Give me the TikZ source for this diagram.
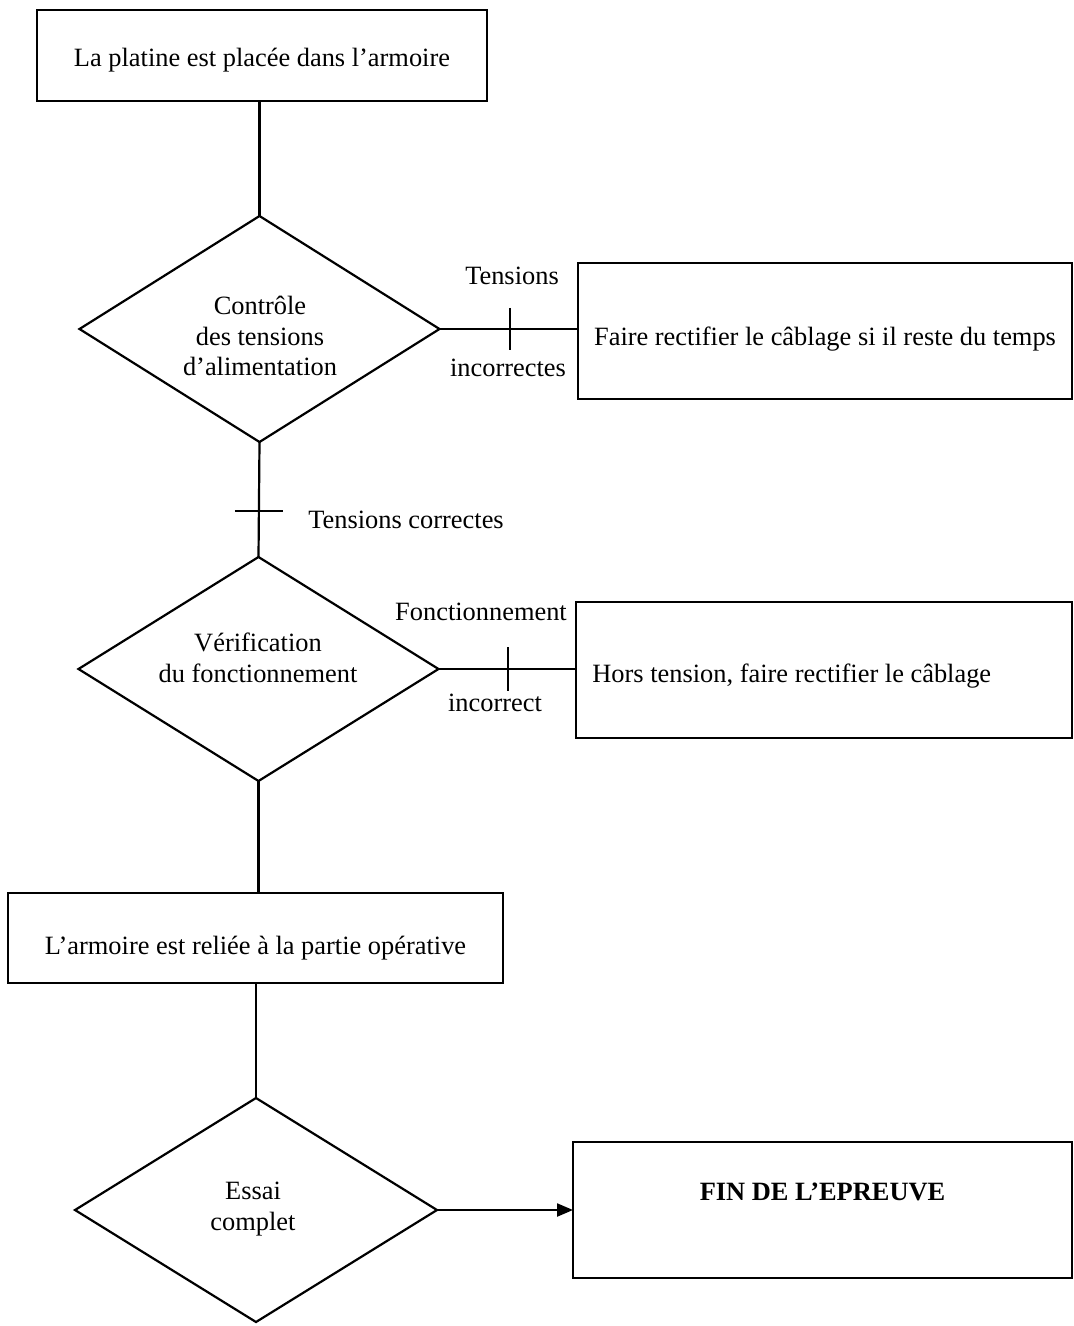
\documentclass[tikz,border=0pt]{standalone}
\usepackage{fontspec}
\setmainfont{Liberation Serif}
\usetikzlibrary{shapes.geometric,arrows.meta}
\begin{document}
\begin{tikzpicture}[x=0.5pt,y=-0.5pt,
  every node/.style={font=\fontsize{13.2pt}{15.25pt}\selectfont},
  line/.style={line width=1.1pt},
  box/.style={draw, line width=1.1pt, rectangle, inner sep=0pt, outer sep=0pt, align=center},
  dia/.style={draw, line width=1.1pt, diamond, aspect=1.6, inner sep=0pt, outer sep=0pt, align=center},
  lbl/.style={inner sep=1pt}]
\useasboundingbox (0,0) rectangle (1073,1326);

% boxes
\node[box, minimum width=225pt, minimum height=45.5pt,
  label={[yshift=-2.5pt, inner sep=0pt]center:La platine est placée dans l’armoire}] (b1) at (262,55.5) {};
\node[box, minimum width=247pt, minimum height=68pt,
  label={[yshift=-4pt, inner sep=0pt]center:Faire rectifier le câblage si il reste du temps}] (b2) at (825,331) {};
\node[box, minimum width=248pt, minimum height=68pt,
  label={[anchor=west, xshift=8pt, yshift=-3pt, inner sep=0pt]west:Hors tension, faire rectifier le câblage}] (b3) at (824,670) {};
\node[box, minimum width=247.5pt, minimum height=45pt,
  label={[yshift=-5pt, inner sep=0pt]center:L’armoire est reliée à la partie opérative}] (b4) at (255.5,938) {};
\node[box, minimum width=249.5pt, minimum height=68pt,
  label={[font=\fontsize{13.2pt}{15.25pt}\selectfont\bfseries, yshift=9pt]center:FIN DE L’EPREUVE}] (b5) at (822.5,1210) {};

% diamonds
\node[dia, minimum width=180pt, minimum height=113pt] (d1) at (259.5,329) {};
\node[dia, minimum width=180pt, minimum height=112pt] (d2) at (258.5,669) {};
\node[dia, minimum width=181pt, minimum height=112pt] (d3) at (256,1210) {};
\node[align=center, inner sep=0pt] (d1t) at (260,336) {Contrôle\\des tensions\\d’alimentation};
\node[align=center, inner sep=0pt] (d2t) at (258,658) {Vérification\\du fonctionnement};
\node[align=center, inner sep=0pt] (d3t) at (253,1209) {Essai\\complet};

% connectors
\draw[line] (d1.north |- b1.south) -- (d1.north);
\draw[line] (d1.south) -- coordinate[pos=0.6] (t2) (d2.north);
\draw[line] (d2.south) -- (d2.south |- b4.north);
\draw[line] (d3.north |- b4.south) -- (d3.north);
\draw[line] (d1.east) -- (d1.east -| b2.west);
\draw[line] (d2.east) -- (d2.east -| b3.west);
\draw[line, -{Triangle[length=8pt,width=6.5pt]}] (d3.east) -- (d3.east -| b5.west);

% ticks
\path (d1.east) -- (d1.east -| b2.west) coordinate[pos=0.507] (t1);
\path (d2.east) -- (d2.east -| b3.west) coordinate[pos=0.507] (t3);
\draw[line] ([yshift=10.5pt]t1) -- ([yshift=-10.5pt]t1);
\draw[line] ([yshift=11pt]t3) -- ([yshift=-11pt]t3);
\draw[line] ([xshift=-12pt]t2) -- ([xshift=12pt]t2);

% labels
\node[lbl] (l1) at (512,276) {Tensions};
\node[lbl] (l2) at (508,368) {incorrectes};
\node[lbl, anchor=west] (l3) at (306,520) {Tensions correctes};
\node[lbl] (l4) at (481,612) {Fonctionnement};
\node[lbl] (l5) at (495,703) {incorrect};
\end{tikzpicture}
\end{document}
